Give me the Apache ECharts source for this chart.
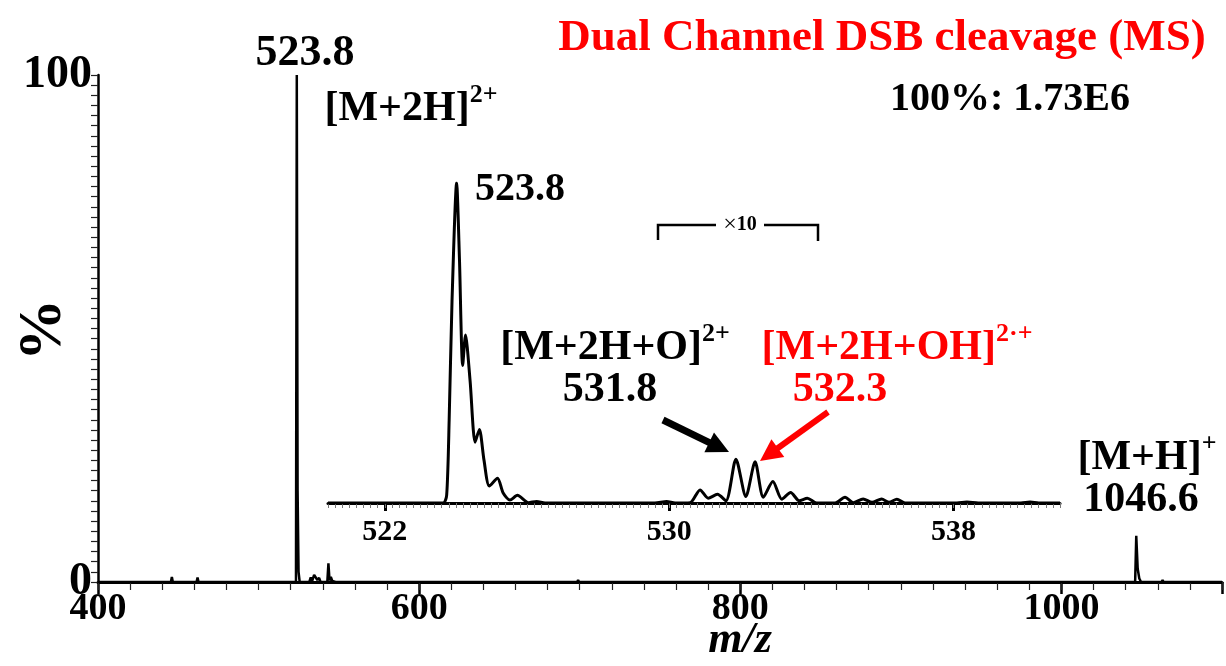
<!DOCTYPE html>
<html>
<head>
<meta charset="utf-8">
<script src="https://cdn.jsdelivr.net/npm/echarts@6/dist/echarts.min.js"></script>
<style>
  html, body { margin: 0; padding: 0; background: #fff; }
  #chart { width: 1226px; height: 666px; }
</style>
</head>
<body>
<div id="chart"></div>
<script>
// full scan, m/z vs relative intensity (%)
const mainMz = [400, 445.4, 446, 446.6, 461.4, 462, 462.6, 518.4, 519, 519.6, 523.3, 523.8, 524.3, 524.9, 525.6,
  531.6, 532.5, 533.4, 534.6, 535.6, 536.6, 537.7, 538.6, 542.8, 543.5, 544.2, 545, 545.9, 547, 548,
  554.2, 555, 555.8, 698.4, 699, 699.6, 1045.9, 1046.6, 1047.5, 1048.5, 1049.6, 1062.4, 1063, 1063.6, 1100];
const mainPct = [0, 0, 1.0, 0, 0, 0.9, 0, 0, 0.3, 0, 0, 100, 18, 2, 0,
  0, 0.9, 0.2, 1.4, 1.5, 0.4, 0.8, 0, 0, 3.7, 0.3, 1.0, 0.2, 0.5, 0,
  0, 0.3, 0, 0, 0.4, 0, 0, 9.1, 2.6, 0.7, 0, 0, 0.4, 0, 0];

// zoomed inset around 520-541
const insetMz = [520.4, 523.64, 523.74, 523.81, 523.89, 524.02, 524.10, 524.19, 524.27, 524.40, 524.54, 524.66,
  524.79, 524.94, 525.17, 525.33, 525.52, 525.73, 526.04, 526.27, 526.51, 529.6, 529.93, 530.17, 530.59,
  530.87, 531.10, 531.36, 531.60, 531.88, 532.16, 532.42, 532.65, 532.92, 533.17, 533.42, 533.66, 533.89,
  534.15, 534.67, 534.95, 535.18, 535.46, 535.71, 535.98, 536.19, 536.41, 536.64, 538.1, 538.38, 538.7,
  539.9, 540.16, 540.4, 541];
const insetPct = [0, 0, 2.5, 26, 63, 100, 76, 43, 52.5, 38, 19, 23,
  13.4, 5.3, 7.7, 3.1, 0.9, 2.4, 0.1, 0.5, 0, 0, 0.5, 0, 0.1,
  4.1, 1.5, 2.7, 0.7, 13.7, 2.0, 12.9, 1.8, 6.7, 1.2, 3.3, 0.7, 1.5,
  0, 0, 1.8, 0.1, 1.25, 0.2, 1.25, 0.2, 1.2, 0, 0, 0.3, 0,
  0, 0.3, 0, 0];

const mainTickLabels = [400, 600, 800, 1000];
const yTickLabels = [0, 100];
const insetTickLabels = [522, 530, 538];

const F = '"Liberation Serif", "Times New Roman", serif';

// minor tick positions
const mainMinor = [];
for (let v = 400; v <= 1100; v += 20) mainMinor.push(v);
const yMinor = [];
for (let v = 0; v <= 100; v += 2) yMinor.push(v);
const insetMinor = [];
for (let i = 0; i <= 103; i++) insetMinor.push(Math.round((520.4 + i * 0.2) * 10) / 10);

const chart = echarts.init(document.getElementById('chart'));

function txt(x, y, text, size, color, rich) {
  const el = {
    type: 'text', x, y, z: 10,
    style: { text, fill: color || '#000', font: 'bold ' + size + 'px ' + F, align: 'center', verticalAlign: 'middle' }
  };
  if (rich) el.style.rich = rich;
  return el;
}

function supRich(size, supSize, color) {
  return {
    b: { fontSize: size, fontWeight: 'bold', fontFamily: F, fill: color, verticalAlign: 'bottom', lineHeight: size * 1.15 },
    s: { fontSize: supSize, fontWeight: 'bold', fontFamily: F, fill: color, verticalAlign: 'top', lineHeight: size * 1.15 }
  };
}

function arrow(x1, y1, x2, y2, color, w, hl, hw) {
  const dx = x2 - x1, dy = y2 - y1, len = Math.sqrt(dx * dx + dy * dy);
  const ux = dx / len, uy = dy / len;
  const bx = x2 - ux * hl, by = y2 - uy * hl;
  return {
    type: 'group', z: 10,
    children: [
      { type: 'line', shape: { x1, y1, x2: bx + ux * 2, y2: by + uy * 2 }, style: { stroke: color, lineWidth: w } },
      { type: 'polygon', shape: { points: [[x2, y2], [bx - uy * hw, by + ux * hw], [bx + uy * hw, by - ux * hw]] }, style: { fill: color } }
    ]
  };
}

const option = {
  animation: false,
  backgroundColor: '#fff',
  grid: [
    { left: 98, right: 4, top: 75, bottom: 84, outerBoundsMode: 'none', containLabel: false },
    { left: 328, right: 166, top: 183, bottom: 163, outerBoundsMode: 'none', containLabel: false }
  ],
  xAxis: [
    {
      gridIndex: 0, type: 'value', min: 400, max: 1100, interval: 200,
      axisLine: { lineStyle: { color: '#000', width: 3 } },
      axisTick: { length: 12, lineStyle: { color: '#000', width: 2.5 } },
      axisLabel: { customValues: mainTickLabels, formatter: v => String(v), margin: 8, fontFamily: F, fontWeight: 'bold', fontSize: 38, color: '#000' },
      splitLine: { show: false }
    },
    {
      gridIndex: 0, type: 'value', min: 400, max: 1100, position: 'bottom',
      axisLine: { show: false },
      axisTick: { customValues: mainMinor, length: 8, lineStyle: { color: '#222', width: 1.2 } },
      axisLabel: { show: false },
      splitLine: { show: false }
    },
    {
      gridIndex: 1, type: 'value', min: 520.4, max: 541,
      axisLine: { lineStyle: { color: '#000', width: 3 } },
      axisTick: { customValues: insetTickLabels, length: 8, lineStyle: { color: '#000', width: 3 } },
      axisLabel: { customValues: insetTickLabels, formatter: v => String(v), margin: 14, fontFamily: F, fontWeight: 'bold', fontSize: 30, color: '#000' },
      splitLine: { show: false }
    },
    {
      gridIndex: 1, type: 'value', min: 520.4, max: 541, position: 'bottom',
      axisLine: { show: false },
      axisTick: { customValues: insetMinor, length: 5, lineStyle: { color: '#777', width: 1 } },
      axisLabel: { show: false },
      splitLine: { show: false }
    }
  ],
  yAxis: [
    {
      gridIndex: 0, type: 'value', min: 0, max: 100,
      axisLine: { show: true, lineStyle: { color: '#000', width: 2.5 } },
      axisTick: { customValues: yMinor, length: 7, lineStyle: { color: '#222', width: 1.2 } },
      axisLabel: { customValues: yTickLabels, margin: 6, fontFamily: F, fontWeight: 'bold', fontSize: 46, color: '#000' },
      splitLine: { show: false }
    },
    {
      gridIndex: 1, type: 'value', min: 0, max: 100, show: false
    }
  ],
  series: [
    {
      type: 'line', xAxisIndex: 0, yAxisIndex: 0,
      data: mainMz.map((m, i) => [m, mainPct[i]]),
      showSymbol: false, lineStyle: { color: '#000', width: 2.5 }
    },
    {
      type: 'line', xAxisIndex: 2, yAxisIndex: 1,
      data: insetMz.map((m, i) => [m, insetPct[i]]),
      showSymbol: false, smooth: 0.25, lineStyle: { color: '#000', width: 3 }
    }
  ],
  graphic: [
    {
      type: 'text', x: 44, y: 330, rotation: Math.PI / 2, z: 10,
      style: { text: '%', fill: '#000', font: 'bold 62px ' + F, align: 'center', verticalAlign: 'middle' }
    },
    {
      type: 'text', x: 740, y: 641, z: 10,
      style: { text: 'm/z', fill: '#000', font: 'italic bold 44px ' + F, align: 'center', verticalAlign: 'middle' }
    },
    txt(882, 38, 'Dual Channel DSB cleavage (MS)', 45, '#ff0000'),
    txt(1010, 100, '100%: 1.73E6', 40),
    txt(305, 54, '523.8', 44),
    txt(411, 106, '{b|[M+2H]}{s|2+}', 44, '#000', supRich(42, 26, '#000')),
    txt(520, 190, '523.8', 40),
    txt(615, 345, '{b|[M+2H+O]}{s|2+}', 42, '#000', supRich(42, 26, '#000')),
    txt(610, 390, '531.8', 42),
    txt(897, 345, '{b|[M+2H+OH]}{s|2·+}', 42, '#ff0000', supRich(42, 26, '#ff0000')),
    txt(840, 390, '532.3', 42, '#ff0000'),
    txt(1147, 455, '{b|[M+H]}{s|+}', 42, '#000', supRich(42, 26, '#000')),
    txt(1141, 500, '1046.6', 42),
    {
      type: 'polyline', z: 10,
      shape: { points: [[658, 240], [658, 225], [716, 225]] },
      style: { stroke: '#000', lineWidth: 2.5, fill: null }
    },
    {
      type: 'polyline', z: 10,
      shape: { points: [[764, 225], [818, 225], [818, 241]] },
      style: { stroke: '#000', lineWidth: 2.5, fill: null }
    },
    {
      type: 'text', x: 740, y: 225, z: 10,
      style: { text: '{x|×}{b|10}', align: 'center', verticalAlign: 'middle',
        rich: { x: { fontSize: 24, fontFamily: F, fill: '#000' }, b: { fontSize: 20, fontWeight: 'bold', fontFamily: F, fill: '#000' } } }
    },
    arrow(663, 420, 729, 452, '#000', 7, 22, 11),
    arrow(828, 412, 760, 461, '#ff0000', 6, 22, 11)
  ]
};

chart.setOption(option);
</script>
</body>
</html>
